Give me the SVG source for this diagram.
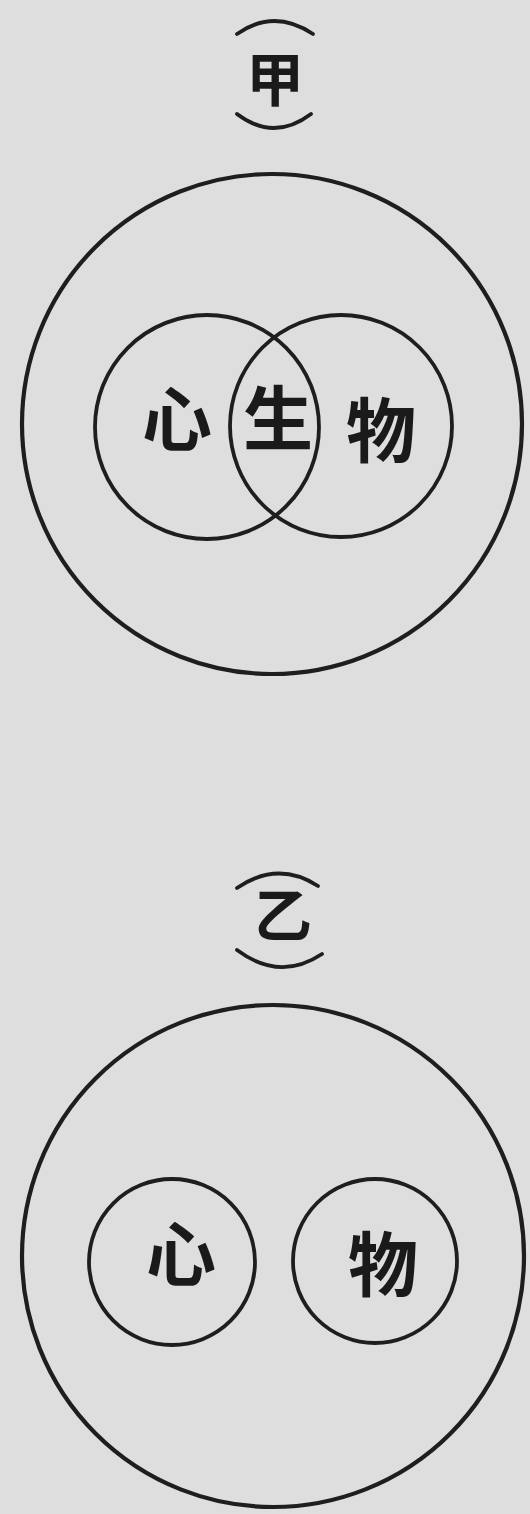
<svg xmlns="http://www.w3.org/2000/svg" width="530" height="1514" viewBox="0 0 530 1514">
<style>
.c{fill:none;stroke:#1e1e1e;stroke-width:4.2}
.ci{fill:none;stroke:#1e1e1e;stroke-width:3.8}
.a{fill:none;stroke:#1e1e1e;stroke-width:3.8;stroke-linecap:round}
.t{font-family:"Noto Sans CJK SC","Noto Sans CJK JP",sans-serif;font-weight:bold;fill:#1a1a1a;text-anchor:middle}
</style>
<rect width="530" height="1514" fill="#dedede"/>
<g id="label-jia">
<path class="a" d="M237,34 Q274,8 313,34"/>
<text class="t" x="275" y="101" font-size="58">甲</text>
<path class="a" d="M237,114 Q274,142 311,114"/>
</g>
<g id="universe-jia"><circle class="c" cx="272" cy="424" r="250"/></g>
<g id="mind-jia">
<circle class="ci" cx="207" cy="427" r="112"/>
<text class="t" x="177" y="446" font-size="70">心</text>
</g>
<g id="matter-jia">
<circle class="ci" cx="341" cy="426" r="111"/>
<text class="t" x="381" y="457" font-size="70">物</text>
</g>
<g id="life-jia"><text class="t" x="278" y="445" font-size="70">生</text></g>
<g id="label-yi">
<path class="a" d="M237,888 Q278,860 318,886"/>
<text class="t" x="283" y="937" font-size="58">乙</text>
<path class="a" d="M237,950 Q280,982 322,954"/>
</g>
<g id="universe-yi"><circle class="c" cx="273" cy="1256" r="251"/></g>
<g id="mind-yi">
<circle class="ci" cx="172" cy="1262" r="83"/>
<text class="t" x="181" y="1281" font-size="70">心</text>
</g>
<g id="matter-yi">
<circle class="ci" cx="375" cy="1261" r="82"/>
<text class="t" x="383" y="1291" font-size="70">物</text>
</g>
<g id="connectors"/>
</svg>
